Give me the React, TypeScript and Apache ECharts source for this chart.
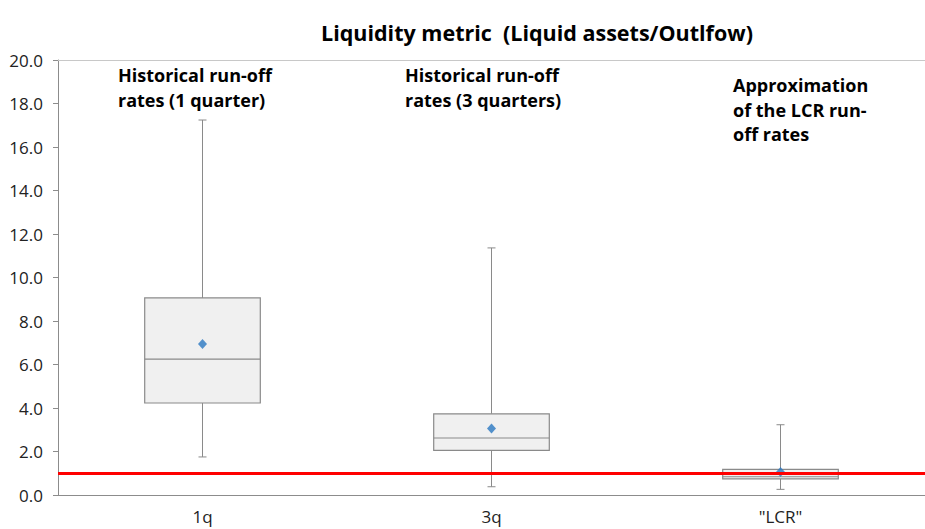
import React, { useEffect, useRef } from "react";
import * as echarts from "echarts";

const categories = ["1q", "3q", '"LCR"'];
const mins = [1.75, 0.38, 0.26];
const q1s = [4.23, 2.05, 0.74];
const medians = [6.25, 2.62, 0.84];
const q3s = [9.06, 3.73, 1.18];
const maxs = [17.24, 11.36, 3.23];
const means = [6.94, 3.06, 1.06];
const threshold = 1.0;
const yTop = 20;

const annotations = [
  { lines: ["Historical run-off", "rates (1 quarter)"], x: 118, y: 75 },
  { lines: ["Historical run-off", "rates (3 quarters)"], x: 405, y: 75 },
  { lines: ["Approximation", "of the LCR run-", "off rates"], x: 733, y: 85 },
];

const FONT = "'Open Sans', 'Noto Sans', sans-serif";

export default function App() {
  const ref = useRef<HTMLDivElement>(null);
  useEffect(() => {
    if (!ref.current) return;
    const chart = echarts.init(ref.current, null, { renderer: "svg" });
    const boxData = categories.map((_, i) => [i, mins[i], q1s[i], medians[i], q3s[i], maxs[i]]);
    const meanData = categories.map((_, i) => [i, means[i]]);
    const graphics: any[] = [];
    annotations.forEach((a) => {
      a.lines.forEach((t, j) => {
        graphics.push({
          type: "text",
          x: a.x,
          y: a.y + j * 24.5,
          z: 10,
          style: {
            text: t,
            fill: "#000",
            font: `bold 18px ${FONT}`,
            textVerticalAlign: "middle",
            textAlign: "left",
          },
        });
      });
    });
    chart.setOption({
      animation: false,
      backgroundColor: "#fff",
      title: {
        text: "Liquidity metric  (Liquid assets/Outlfow)",
        left: 316,
        top: 16,
        textStyle: { fontFamily: FONT, fontWeight: "bold", fontSize: 21.5, color: "#000" },
      },
      grid: { left: 58, top: 60, width: 879, height: 435 },
      xAxis: {
        type: "category",
        data: categories,
        axisLine: { show: true, lineStyle: { color: "#8c8c8c", width: 1 } },
        axisTick: { show: false },
        axisLabel: { fontFamily: FONT, fontSize: 17, color: "#222", margin: 13 },
        splitLine: { show: false },
      },
      yAxis: {
        type: "value",
        min: 0,
        max: yTop,
        interval: 2,
        axisLine: { show: true, lineStyle: { color: "#8c8c8c", width: 1 } },
        axisTick: { show: true, length: 5, lineStyle: { color: "#8c8c8c" } },
        axisLabel: {
          fontFamily: FONT,
          fontSize: 17,
          color: "#222",
          margin: 15,
          formatter: (v: number) => v.toFixed(1),
        },
        splitLine: { show: false },
      },
      graphic: graphics,
      series: [
        {
          type: "custom",
          z: 2,
          data: boxData,
          renderItem: (params: any, api: any) => {
            const idx = api.value(0);
            const lo = api.coord([idx, api.value(1)]);
            const q1 = api.coord([idx, api.value(2)]);
            const med = api.coord([idx, api.value(3)]);
            const q3 = api.coord([idx, api.value(4)]);
            const hi = api.coord([idx, api.value(5)]);
            const band = api.size([1, 0])[0];
            const bw = band * 0.4;
            const cx = lo[0];
            const cap = 4;
            const stroke = { stroke: "#8a8a8a", lineWidth: 1 };
            return {
              type: "group",
              children: [
                { type: "line", shape: { x1: cx, y1: q3[1], x2: cx, y2: hi[1] }, style: stroke },
                { type: "line", shape: { x1: cx, y1: q1[1], x2: cx, y2: lo[1] }, style: stroke },
                { type: "line", shape: { x1: cx - cap, y1: hi[1], x2: cx + cap, y2: hi[1] }, style: stroke },
                { type: "line", shape: { x1: cx - cap, y1: lo[1], x2: cx + cap, y2: lo[1] }, style: stroke },
                {
                  type: "rect",
                  shape: { x: cx - bw / 2, y: q3[1], width: bw, height: q1[1] - q3[1] },
                  style: { fill: "#f0f0f0", stroke: "#8a8a8a", lineWidth: 1.2 },
                },
                { type: "line", shape: { x1: cx - bw / 2, y1: med[1], x2: cx + bw / 2, y2: med[1] }, style: { stroke: "#8a8a8a", lineWidth: 1.2 } },
              ],
            };
          },
        },
        {
          type: "scatter",
          z: 3,
          data: meanData,
          symbol: "diamond",
          symbolSize: [9, 10],
          itemStyle: { color: "#2a78c2" },
        },
        {
          type: "line",
          z: 5,
          data: [],
          markLine: {
            silent: true,
            symbol: ["none", "none"],
            label: { show: false },
            data: [
              { yAxis: threshold, lineStyle: { color: "#ff0000", width: 3, type: "solid" } },
              { yAxis: yTop, lineStyle: { color: "#c8c8c8", width: 1, type: "solid" } },
            ],
          },
        },
      ],
    });
    return () => chart.dispose();
  }, []);
  return (
    <div
      ref={ref}
      style={{ position: "absolute", left: 0, top: 0, width: 925, height: 529 }}
    />
  );
}
